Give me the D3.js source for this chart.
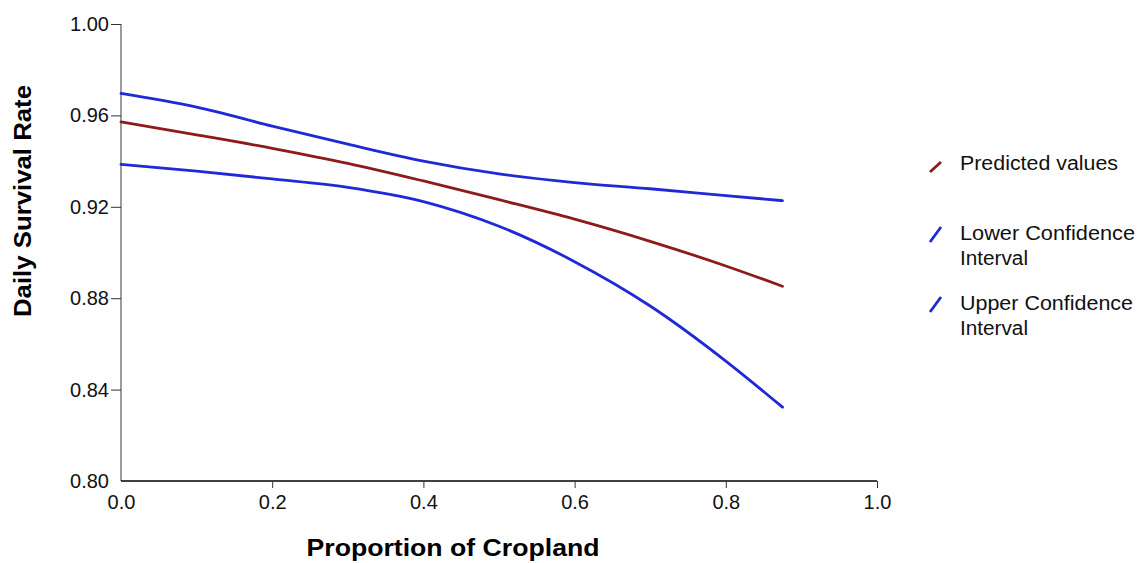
<!DOCTYPE html>
<html>
<head>
<meta charset="utf-8">
<script src="https://cdn.jsdelivr.net/npm/d3@7"></script>
<style>
  body { margin: 0; background: #fff; }
  svg { display: block; }
  text { font-family: Arial, "Liberation Sans", sans-serif; }
</style>
</head>
<body>
<svg id="chart" width="1143" height="563"></svg>
<script>
// ---- data ----
const cropland = [0.0, 0.1, 0.2, 0.3, 0.4, 0.5, 0.6, 0.7, 0.8, 0.875];
const predicted = [0.9572, 0.9515, 0.9456, 0.9390, 0.9313, 0.9231, 0.9146, 0.9049, 0.8941, 0.8852];
const lowerCI   = [0.9386, 0.9356, 0.9322, 0.9285, 0.9223, 0.9115, 0.8960, 0.8766, 0.8525, 0.8323];
const upperCI   = [0.9696, 0.9636, 0.9553, 0.9474, 0.9400, 0.9344, 0.9306, 0.9279, 0.9249, 0.9227];
const xTicks = [0.0, 0.2, 0.4, 0.6, 0.8, 1.0];
const yTicks = [0.80, 0.84, 0.88, 0.92, 0.96, 1.00];
const seriesNames = ["Predicted values", "Lower Confidence Interval", "Upper Confidence Interval"];

const RED = "#8e1b1b", BLUE = "#1f2ad6";
const FONT = "Arial, 'Liberation Sans', sans-serif";

const svg = d3.select("#chart");
const m = {left: 121, top: 24, width: 756, height: 457};

const x = d3.scaleLinear().domain([0, 1]).range([m.left, m.left + m.width]);
const y = d3.scaleLinear().domain([0.80, 1.00]).range([m.top + m.height, m.top]);

// ---- axes ----
const yAxis = svg.append("g")
  .attr("transform", `translate(${m.left},0)`)
  .call(d3.axisLeft(y).tickValues(yTicks).tickFormat(d3.format(".2f")).tickSize(10).tickPadding(2));
yAxis.select(".domain").attr("stroke", "#7a7a7a").attr("stroke-width", 1.5).attr("d", `M0,${m.top}V${m.top + m.height}`);
yAxis.selectAll(".tick line").attr("stroke", "#333");
yAxis.selectAll(".tick").filter(d => d === 0.80).select("line").remove();
yAxis.selectAll("text").attr("font-size", 20).attr("fill", "#111").attr("font-family", FONT);

const xAxis = svg.append("g")
  .attr("transform", `translate(0,${m.top + m.height})`)
  .call(d3.axisBottom(x).tickValues(xTicks).tickFormat(d3.format(".1f")).tickSize(7).tickPadding(7));
xAxis.select(".domain").attr("stroke", "#000").attr("stroke-width", 1.5).attr("d", `M${m.left},0H${m.left + m.width}`);
xAxis.selectAll(".tick line").attr("stroke", "#333");
xAxis.selectAll(".tick").filter(d => d === 0).select("line").remove();
xAxis.selectAll("text").attr("font-size", 20).attr("fill", "#111").attr("font-family", FONT);

// ---- lines ----
const line = d3.line()
  .x((d, i) => x(cropland[i]))
  .y(d => y(d))
  .curve(d3.curveMonotoneX);

[[upperCI, BLUE], [lowerCI, BLUE], [predicted, RED]].forEach(([vals, col]) => {
  svg.append("path")
    .attr("d", line(vals))
    .attr("fill", "none")
    .attr("stroke", col)
    .attr("stroke-width", 2.8)
    .attr("stroke-linecap", "round");
});

// ---- axis titles ----
svg.append("text")
  .attr("x", 453).attr("y", 556)
  .attr("text-anchor", "middle")
  .attr("font-weight", "bold").attr("font-size", 23)
  .attr("textLength", 293).attr("lengthAdjust", "spacingAndGlyphs")
  .text("Proportion of Cropland");

svg.append("text")
  .attr("transform", "translate(31,201) rotate(-90)")
  .attr("text-anchor", "middle")
  .attr("font-weight", "bold").attr("font-size", 23)
  .attr("textLength", 232).attr("lengthAdjust", "spacingAndGlyphs")
  .text("Daily Survival Rate");

// ---- legend ----
const legendItems = [
  {name: seriesNames[0], lines: [["Predicted values", 158]], color: RED, y: 170, gh: 10},
  {name: seriesNames[1], lines: [["Lower Confidence", 175], ["Interval", 68]], color: BLUE, y: 240, gh: 15},
  {name: seriesNames[2], lines: [["Upper Confidence", 173], ["Interval", 68]], color: BLUE, y: 310, gh: 15}
];
const legend = svg.append("g");
legendItems.forEach(it => {
  legend.append("line")
    .attr("x1", 930).attr("y1", it.y + 2)
    .attr("x2", 941).attr("y2", it.y + 2 - it.gh)
    .attr("stroke", it.color).attr("stroke-width", 2.8);
  it.lines.forEach(([t, w], j) => {
    legend.append("text")
      .attr("x", 960).attr("y", it.y + j * 25)
      .attr("font-size", 20).attr("fill", "#111")
      .attr("textLength", w).attr("lengthAdjust", "spacingAndGlyphs")
      .text(t);
  });
});
</script>
</body>
</html>
